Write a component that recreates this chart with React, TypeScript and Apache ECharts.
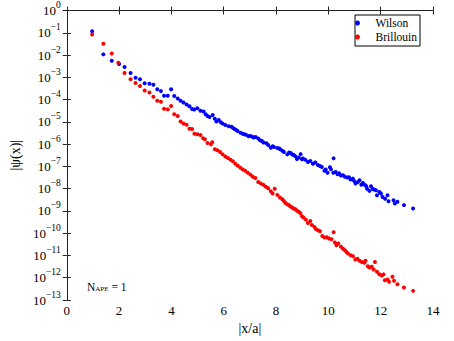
import React, { useEffect, useRef } from 'react';
import * as echarts from 'echarts';

const FONT = 'Liberation Serif';

const wilsonX = [
  0.97, 1.40, 1.72, 2.00, 2.21, 2.44, 2.63, 2.80, 2.98, 3.16, 3.31, 3.46, 3.60, 3.72, 3.86, 3.99,
  4.11, 4.24, 4.35, 4.46, 4.58, 4.69, 4.79, 4.87, 4.99, 5.11, 5.23, 5.31, 5.38, 5.46, 5.58, 5.66,
  5.72, 5.81, 5.89, 5.96, 6.06, 6.19, 6.30, 6.35, 6.41, 6.47, 6.53, 6.64, 6.73, 6.78, 6.85, 6.95,
  7.00, 7.08, 7.14, 7.22, 7.32, 7.39, 7.46, 7.52, 7.63, 7.70, 7.80, 7.87, 7.92, 8.05, 8.12, 8.16,
  8.24, 8.30, 8.43, 8.50, 8.56, 8.62, 8.68, 8.74, 8.80, 8.87, 8.94, 8.99, 9.03, 9.12, 9.22, 9.31,
  9.41, 9.50, 9.60, 9.68, 9.75, 9.85, 9.90, 9.97, 10.06, 10.10, 10.19, 10.20, 10.28, 10.35, 10.41,
  10.48, 10.56, 10.63, 10.72, 10.79, 10.85, 10.94, 10.98, 11.04, 11.13, 11.19, 11.26, 11.32, 11.40,
  11.45, 11.48, 11.57, 11.63, 11.69, 11.75, 11.82, 11.86, 11.95, 12.01, 12.07, 12.17, 12.26, 12.30,
  12.49, 12.54, 12.64, 12.89, 13.24,
];
const wilsonLog10 = [
  -0.93, -1.97, -2.26, -2.40, -2.54, -2.81, -3.02, -3.09, -3.27, -3.29, -3.33, -3.54, -3.62, -3.83, -3.83, -3.54,
  -3.84, -3.95, -4.05, -4.13, -4.22, -4.30, -4.42, -4.45, -4.39, -4.50, -4.54, -4.66, -4.74, -4.78, -4.69, -4.86,
  -4.98, -4.92, -5.02, -5.08, -5.14, -5.20, -5.22, -5.27, -5.32, -5.36, -5.41, -5.49, -5.53, -5.56, -5.58, -5.65,
  -5.63, -5.66, -5.70, -5.68, -5.75, -5.83, -5.86, -5.93, -5.96, -6.04, -6.16, -6.10, -6.13, -6.17, -6.20, -6.23,
  -6.30, -6.35, -6.46, -6.38, -6.40, -6.47, -6.49, -6.55, -6.67, -6.60, -6.45, -6.68, -6.65, -6.70, -6.80, -6.76,
  -6.88, -6.83, -6.94, -6.98, -7.03, -7.20, -7.14, -7.29, -7.04, -7.13, -7.29, -6.64, -7.25, -7.35, -7.31,
  -7.41, -7.40, -7.47, -7.50, -7.49, -7.59, -7.55, -7.65, -7.77, -7.70, -7.62, -7.82, -7.74, -7.84,
  -7.89, -8.00, -8.10, -7.89, -8.01, -8.04, -8.07, -8.30, -8.15, -8.22, -8.37, -8.45, -8.30, -8.57,
  -8.52, -8.67, -8.59, -8.74, -8.89,
];

const brillouinX = [
  0.97, 1.40, 1.72, 1.97, 2.21, 2.44, 2.63, 2.80, 2.98, 3.16, 3.31, 3.46, 3.60, 3.72, 3.86, 3.99,
  4.11, 4.24, 4.35, 4.46, 4.58, 4.69, 4.79, 4.88, 4.99, 5.11, 5.21, 5.28, 5.38, 5.51, 5.56, 5.66,
  5.76, 5.86, 5.96, 6.06, 6.16, 6.26, 6.35, 6.44, 6.54, 6.64, 6.73, 6.82, 6.92, 7.02, 7.11, 7.21,
  7.32, 7.42, 7.52, 7.61, 7.70, 7.80, 7.87, 7.95, 8.05, 8.15, 8.24, 8.30, 8.36, 8.43, 8.49, 8.55,
  8.62, 8.68, 8.74, 8.80, 8.87, 8.93, 8.99, 9.05, 9.14, 9.22, 9.31, 9.37, 9.47, 9.52, 9.60, 9.68,
  9.77, 9.85, 9.94, 10.02, 10.12, 10.20, 10.25, 10.31, 10.38, 10.48, 10.56, 10.63, 10.69, 10.75,
  10.85, 10.94, 11.03, 11.11, 11.19, 11.28, 11.38, 11.42, 11.51, 11.57, 11.66, 11.73, 11.78, 11.86,
  11.95, 12.04, 12.11, 12.16, 12.26, 12.32, 12.45, 12.51, 12.64, 12.89, 13.24,
];
const brillouinLog10 = [
  -1.08, -1.49, -1.93, -2.35, -2.81, -3.09, -3.26, -3.39, -3.59, -3.68, -3.87, -4.05, -4.10, -4.41, -4.44, -4.29,
  -4.66, -4.74, -4.98, -5.07, -5.13, -5.31, -5.32, -5.53, -5.56, -5.59, -5.74, -5.78, -5.95, -6.01, -5.92, -6.23,
  -6.28, -6.35, -6.46, -6.56, -6.62, -6.70, -6.77, -6.88, -6.97, -7.06, -7.14, -7.20, -7.29, -7.37, -7.47, -7.52,
  -7.70, -7.77, -7.83, -7.91, -7.98, -8.12, -8.22, -8.00, -8.28, -8.40, -8.48, -8.55, -8.64, -8.70, -8.74, -8.80,
  -8.85, -8.90, -8.92, -8.99, -9.04, -9.10, -9.24, -9.30, -9.39, -9.54, -9.45, -9.63, -9.72, -9.81, -9.87, -9.91,
  -10.13, -10.19, -10.18, -10.24, -10.27, -9.96, -10.42, -10.54, -10.46, -10.61, -10.70, -10.76, -10.84, -10.91,
  -10.99, -11.03, -11.18, -11.15, -11.24, -11.29, -11.33, -11.24, -11.48, -11.54, -11.51, -11.63, -11.29, -11.73,
  -11.84, -11.90, -11.85, -12.11, -12.08, -12.18, -11.96, -12.14, -12.29, -12.44, -12.59,
];

const seriesNames = ['Wilson', 'Brillouin'];
const seriesColors = ['#0000ff', '#ff0000'];
const xLabel = '|x/a|';
const yLabel = '|ψ(x)|';

export default function App() {
  const ref = useRef<HTMLDivElement>(null);
  useEffect(() => {
    if (!ref.current) return;
    const chart = echarts.init(ref.current, undefined, { renderer: 'svg' });
    const axisColor = '#222';
    const frameAxis = {
      axisLine: { show: true, lineStyle: { color: axisColor, width: 1 } },
      axisTick: { show: true, inside: true, length: 4, lineStyle: { color: axisColor } },
      splitLine: { show: false },
    };
    chart.setOption({
      animation: false,
      backgroundColor: '#fff',
      grid: { left: 62, right: 21, top: 10, bottom: 41, containLabel: false },
      legend: {
        data: seriesNames,
        orient: 'vertical',
        left: 355,
        top: 15,
        icon: 'circle',
        itemWidth: 26,
        itemHeight: 5,
        itemGap: 0,
        padding: [1, 3, 2, 0],
        borderColor: '#000',
        borderWidth: 1,
        borderRadius: 0,
        backgroundColor: '#fff',
        textStyle: { fontFamily: FONT, fontSize: 11.5, color: '#000', lineHeight: 14 },
      },
      xAxis: [
        {
          type: 'value', min: 0, max: 14, interval: 2, position: 'bottom',
          name: xLabel, nameLocation: 'middle', nameGap: 18,
          nameTextStyle: { fontFamily: FONT, fontSize: 14, color: '#000' },
          axisLabel: { margin: 4, fontFamily: FONT, fontSize: 13, color: '#000' },
          ...frameAxis,
        },
        {
          type: 'value', min: 0, max: 14, interval: 2, position: 'top',
          axisLabel: { show: false },
          ...frameAxis,
        },
      ],
      yAxis: [
        {
          type: 'value', min: -13, max: 0, interval: 1, position: 'left',
          name: yLabel, nameLocation: 'middle', nameGap: 38,
          nameTextStyle: { fontFamily: FONT, fontSize: 14, color: '#000' },
          axisLabel: {
            margin: 6,
            formatter: (v: number) => `{b|10}{s|${v === 0 ? '0' : '−' + String(-v)}}`,
            rich: {
              b: { fontFamily: FONT, fontSize: 13, color: '#000' },
              s: { fontFamily: FONT, fontSize: 9.5, color: '#000', padding: [0, 0, 11, 0] },
            },
          },
          ...frameAxis,
        },
        {
          type: 'value', min: -13, max: 0, interval: 1, position: 'right',
          axisLabel: { show: false },
          ...frameAxis,
        },
      ],
      series: [
        {
          type: 'scatter', name: seriesNames[0], symbolSize: 4,
          itemStyle: { color: seriesColors[0], opacity: 1 },
          data: wilsonX.map((x, i) => [x, wilsonLog10[i]]),
        },
        {
          type: 'scatter', name: seriesNames[1], symbolSize: 4,
          itemStyle: { color: seriesColors[1], opacity: 1 },
          data: brillouinX.map((x, i) => [x, brillouinLog10[i]]),
        },
      ],
      graphic: [
        {
          type: 'text', left: 87, top: 281,
          style: {
            text: '{n|N}{s|APE}{n| = 1}',
            rich: {
              n: { fontFamily: FONT, fontSize: 11.5, fill: '#000', verticalAlign: 'bottom' },
              s: { fontFamily: FONT, fontSize: 7, fill: '#000', padding: [4, 0, 0, 0] },
            },
          },
        },
      ],
    });
    return () => chart.dispose();
  }, []);
  return <div ref={ref} style={{ position: 'fixed', left: 0, top: 0, width: 454, height: 341 }} />;
}
